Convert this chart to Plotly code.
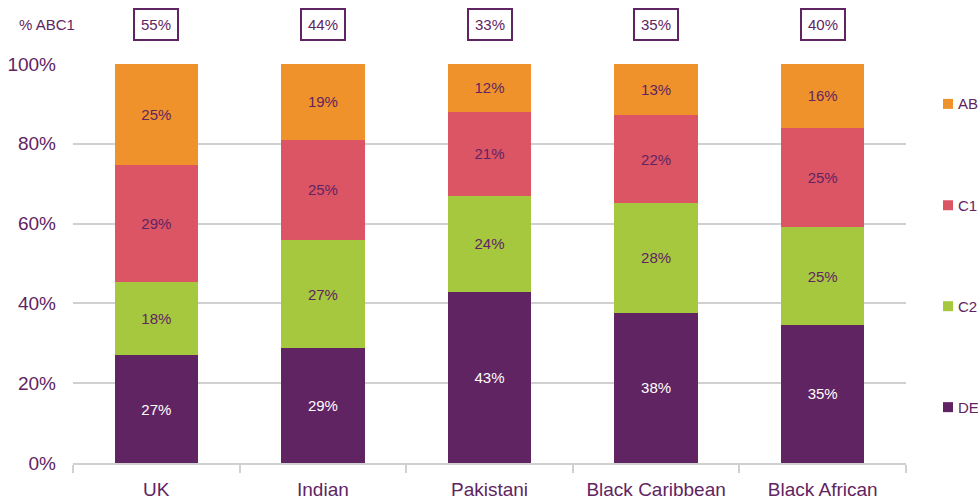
import plotly.graph_objects as go

categories = ["UK", "Indian", "Pakistani", "Black Caribbean", "Black African"]
de = [27.0, 28.8, 42.9, 37.6, 34.6]
c2 = [18.4, 27.1, 24.0, 27.6, 24.5]
c1 = [29.2, 25.1, 21.1, 21.9, 24.9]
ab = [25.4, 19.0, 12.0, 12.9, 16.0]
abc1 = ["55%", "44%", "33%", "35%", "40%"]
y_ticks = [0, 20, 40, 60, 80, 100]
y_tick_labels = ["0%", "20%", "40%", "60%", "80%", "100%"]

PURPLE = "#612462"
colors = {"DE": "#612462", "C2": "#A5C83F", "C1": "#DC5564", "AB": "#F0922B"}
series = [("DE", de, "white"), ("C2", c2, PURPLE), ("C1", c1, PURPLE), ("AB", ab, PURPLE)]
legend_y = {"AB": 90.0, "C1": 64.6, "C2": 39.3, "DE": 14.0}

FONT = "Liberation Sans, Arial, sans-serif"

W, H = 978, 502
PL, PR, PT, PB = 73, 906, 64, 463   # plot area in pixels
PW, PH = PR - PL, PB - PT


def px(xp):
    return (xp - PL) / PW


def py(yp):
    return (PB - yp) / PH


fig = go.Figure()
for name, vals, tcol in series:
    fig.add_trace(go.Bar(
        x=categories, y=vals, name=name,
        marker=dict(color=colors[name], line=dict(width=0)),
        texttemplate="%{y:.0f}%", textposition="inside",
        insidetextanchor="middle",
        textfont=dict(color=tcol, size=15, family=FONT),
        hoverinfo="skip",
    ))

annotations = []
for cat, lab in zip(categories, abc1):
    annotations.append(dict(
        x=cat, y=py(24.5), xref="x", yref="paper", text=lab, showarrow=False,
        font=dict(size=15, color=PURPLE, family=FONT),
        bordercolor=PURPLE, borderwidth=2, borderpad=6, bgcolor="white",
        xanchor="center", yanchor="middle",
    ))
annotations.append(dict(
    x=px(17), y=py(25), xref="paper", yref="paper", text="% ABC1", showarrow=False,
    font=dict(size=15, color=PURPLE, family=FONT), xanchor="left", yanchor="middle",
))

shapes = []
for name in ["AB", "C1", "C2", "DE"]:
    shapes.append(dict(
        type="rect", xref="paper", yref="y",
        xsizemode="pixel", ysizemode="pixel",
        xanchor=px(948), yanchor=legend_y[name],
        x0=-5, x1=5, y0=-5, y1=5,
        fillcolor=colors[name], line=dict(width=0),
    ))
    annotations.append(dict(
        x=px(956), y=legend_y[name], xref="paper", yref="y",
        text=name, showarrow=False, xanchor="left", yanchor="middle",
        font=dict(size=15, color=PURPLE, family=FONT),
    ))

fig.update_layout(
    barmode="stack", bargap=0.5,
    width=W, height=H,
    margin=dict(l=PL, r=W - PR, t=PT, b=H - PB, autoexpand=False),
    paper_bgcolor="white", plot_bgcolor="white",
    showlegend=False,
    annotations=annotations, shapes=shapes,
    font=dict(family=FONT, color=PURPLE),
)
fig.update_xaxes(
    showline=True, linecolor="#d0d0d0", linewidth=2,
    ticks="outside", tickson="boundaries", ticklen=8, tickcolor="#d0d0d0", tickwidth=2,
    tickfont=dict(size=19, color=PURPLE, family=FONT),
    ticklabelstandoff=8,
    showgrid=False,
)
fig.update_yaxes(
    range=[0, 100], tickvals=y_ticks, ticktext=y_tick_labels,
    showgrid=True, gridcolor="#d0d0d0", gridwidth=2,
    zeroline=False, showline=False, ticks="",
    tickfont=dict(size=19, color=PURPLE, family=FONT),
    ticklabelstandoff=16,
)

fig.write_html(
    "out.html",
    config={"displayModeBar": False},
    post_script="document.body.style.margin='0';document.body.style.overflow='hidden';",
)
